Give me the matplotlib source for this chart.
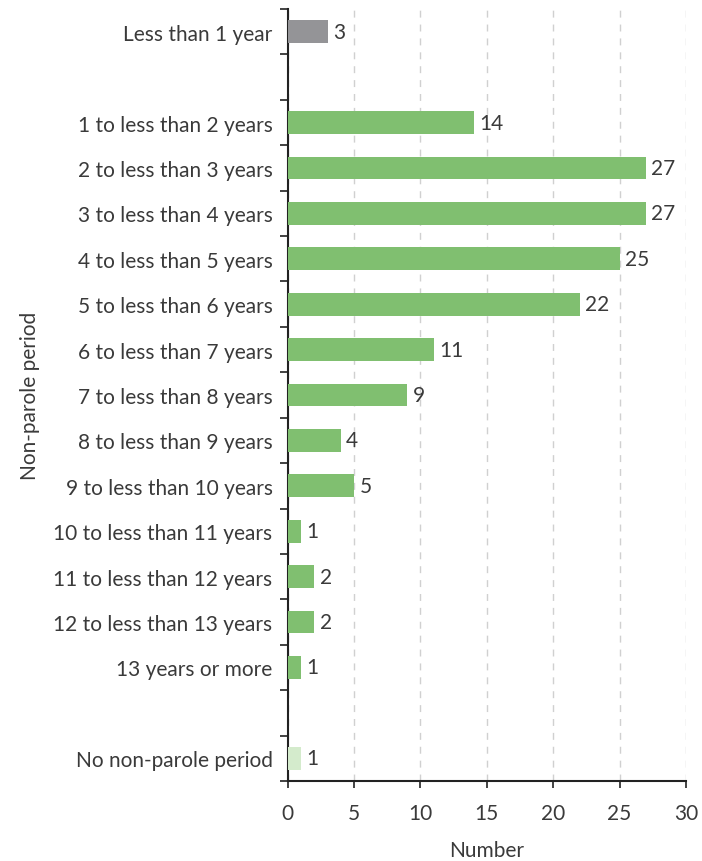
import matplotlib.pyplot as plt
import numpy as np

plt.rcParams.update(
    {
        "font.family": ["Lato", "DejaVu Sans"],
        "font.size": 15.0,
        "text.color": "#3a3a3a",
        "axes.labelcolor": "#3a3a3a",
        "xtick.color": "#222222",
        "ytick.color": "#222222",
        "xtick.labelcolor": "#3a3a3a",
        "ytick.labelcolor": "#3a3a3a",
    }
)

categories = [
    "Less than 1 year",
    "",
    "1 to less than 2 years",
    "2 to less than 3 years",
    "3 to less than 4 years",
    "4 to less than 5 years",
    "5 to less than 6 years",
    "6 to less than 7 years",
    "7 to less than 8 years",
    "8 to less than 9 years",
    "9 to less than 10 years",
    "10 to less than 11 years",
    "11 to less than 12 years",
    "12 to less than 13 years",
    "13 years or more",
    "",
    "No non-parole period",
]
values = [3, None, 14, 27, 27, 25, 22, 11, 9, 4, 5, 1, 2, 2, 1, None, 1]
groups = ["short", None] + ["main"] * 13 + [None, "none"]

colors = {"short": "#949497", "main": "#80bf70", "none": "#d4ebcc"}

fig = plt.figure(figsize=(7.02, 8.62), dpi=100)
ax = fig.add_axes([0.410, 0.0928, 0.567, 0.8956])

pos = np.arange(len(categories))
for y, v, g in zip(pos, values, groups):
    if v is None:
        continue
    ax.barh(y, v, height=0.5, color=colors[g], zorder=3)
    ax.text(v + 0.4, y, str(v), va="center", ha="left", fontsize=15, color="#3a3a3a")

ax.set_ylim(len(categories) - 0.5, -0.5)
ax.set_xlim(0, 30)
ax.set_yticks(pos)
ax.set_yticklabels(categories)
ax.tick_params(axis="y", which="major", length=0, pad=11)
ax.set_yticks(np.arange(-0.5, len(categories) + 0.5, 1), minor=True)
ax.tick_params(axis="y", which="minor", length=6, width=1.2, direction="out")
ax.set_xticks(np.arange(0, 31, 5))
ax.tick_params(axis="x", length=5, width=1.2, pad=11)

ax.grid(axis="x", linestyle=(0, (5, 5)), color="#d0d0d0", linewidth=1, zorder=0)
for s in ["top", "right"]:
    ax.spines[s].set_visible(False)
for s in ["left", "bottom"]:
    ax.spines[s].set_linewidth(1.5)
    ax.spines[s].set_color("#222222")

ax.set_xlabel("Number", labelpad=12)
ax.set_ylabel("Non-parole period", labelpad=10)

fig.savefig("out.png", dpi=100)
